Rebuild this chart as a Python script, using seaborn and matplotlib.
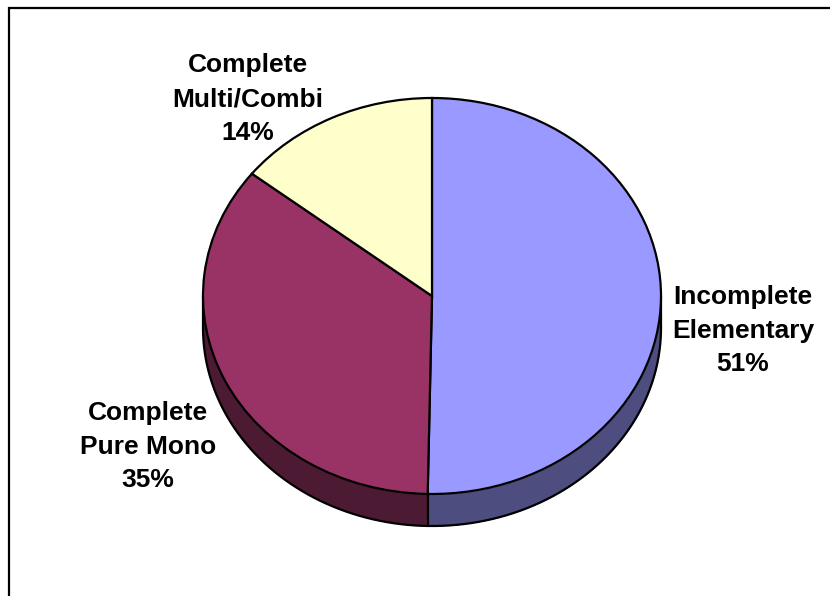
import numpy as np
import matplotlib
matplotlib.use("Agg")
import matplotlib.pyplot as plt
import seaborn as sns

categories = ["Incomplete\nElementary", "Complete\nPure Mono", "Complete\nMulti/Combi"]
shares = [50.3, 35.3, 14.4]
labels_pct = ["51%", "35%", "14%"]
top_colors = ["#9999FF", "#993366", "#FFFFCC"]
side_colors = ["#4D4D80", "#4D1A33", "#808066"]

sns.set_theme(style="white")
plt.rcParams["font.family"] = ["Liberation Sans", "DejaVu Sans"]

W, H = 830, 596
fig = plt.figure(figsize=(W / 100, H / 100), dpi=100)
ax = fig.add_axes([0, 0, 1, 1])
LW = 1.6
wedges, _ = ax.pie(shares, colors=top_colors, startangle=90, counterclock=False,
                   radius=1, center=(0, 0),
                   wedgeprops=dict(edgecolor="black", linewidth=LW, zorder=3))
ax.set_aspect("auto")

rx, ry, cx, cy, depth = 229, 198, 432, 296, 32
ax.set_xlim(-cx / rx, (W - cx) / rx)
ax.set_ylim(-(H - cy) / ry, cy / ry)
d = depth / ry

# extruded rim: follows the wedge angles from the shares
edges = 90 - np.cumsum([0] + shares) * 3.6
for i, col in enumerate(side_colors):
    lo, hi = sorted((edges[i], edges[i + 1]))
    lo, hi = max(lo, -180), min(hi, 0)
    if lo < hi:
        t = np.radians(np.linspace(lo, hi, 200))
        ax.fill_between(np.cos(t), np.sin(t), np.sin(t) - d, color=col, lw=0, zorder=1)
        ax.plot(np.cos(t), np.sin(t) - d, color="black", lw=LW, zorder=2)
for x in (-1, 1):
    ax.plot([x, x], [0, -d], color="black", lw=LW, zorder=2)
t = np.radians(edges[1])
ax.plot([np.cos(t)] * 2, [np.sin(t), np.sin(t) - d], color="black", lw=LW, zorder=2)

label_px = [(743, 330.5), (148, 446.5), (248, 99)]
for cat, pct, (px, py) in zip(categories, labels_pct, label_px):
    ax.text((px - cx) / rx, (cy - py) / ry, f"{cat}\n{pct}", ha="center", va="center",
            fontsize=19, fontweight="bold", color="black", linespacing=1.52, zorder=5)

ax.axis("off")
# chart frame: only its left and top edges lie inside the picture
fx, fy = 9 / W, 1 - 8 / H
fig.add_artist(plt.Line2D([fx, fx, 1], [0, fy, fy], transform=fig.transFigure,
                          color="black", lw=LW, solid_joinstyle="miter"))
fig.savefig("out.png", dpi=100, facecolor="white")
